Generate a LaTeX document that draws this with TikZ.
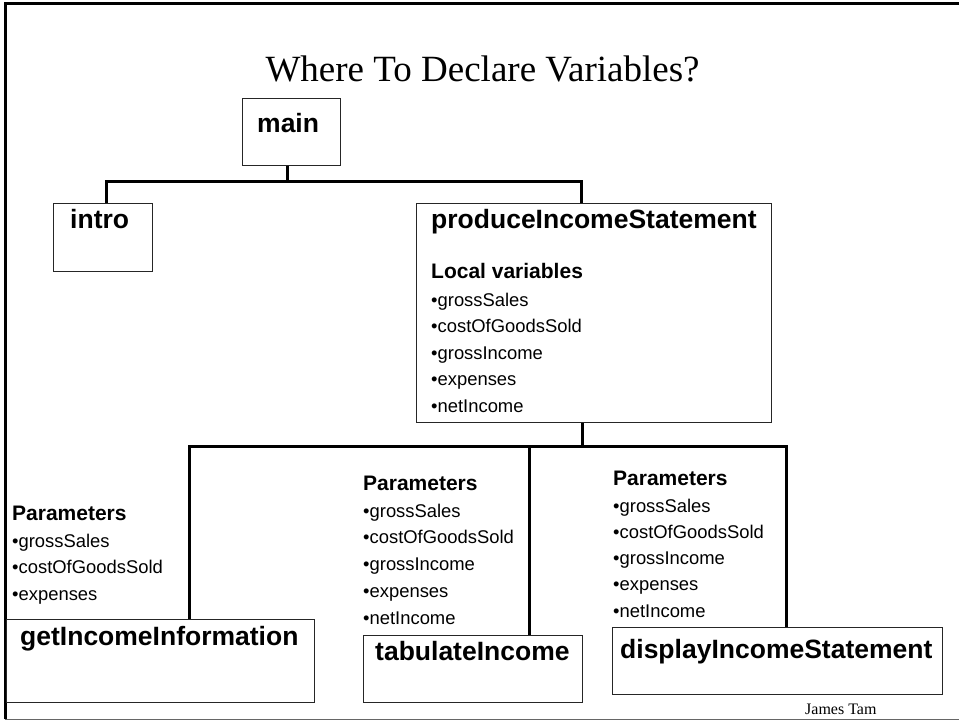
\documentclass[tikz,border=0pt]{standalone}
\usepackage{fontspec}
\setmainfont{Liberation Serif}
\setsansfont{Liberation Sans}
\usetikzlibrary{calc}

\tikzset{
  module/.style={draw=black!85, line width=1pt, rectangle, inner sep=0pt, anchor=north west},
  modname/.style={anchor=base west, inner sep=0pt, font=\sffamily\bfseries\fontsize{26.5}{30}\selectfont},
  listhead/.style={anchor=base west, inner sep=0pt, font=\sffamily\bfseries\fontsize{21}{24}\selectfont},
  listitem/.style={anchor=base west, inner sep=0pt, font=\sffamily\fontsize{18.4}{22}\selectfont},
  bus/.style={line width=3pt, black, line join=miter}
}

\begin{document}
\begin{tikzpicture}[x=1pt, y=-1pt, line cap=butt]
	\useasboundingbox (0,0) rectangle (959,720);

	% slide frame
	\draw[line width=3pt, black] (5,719) -- (5,3.5) -- (959,3.5);
	\draw[line width=1pt, black!60] (5,719) -- (959,719);

	\node[anchor=base, inner sep=0pt, font=\fontsize{37}{40}\selectfont] (title) at (482.5,81) {Where To Declare Variables?};
	\node[anchor=base west, inner sep=0pt, font=\fontsize{16}{18}\selectfont] (author) at (805,714) {James Tam};

	% modules
	\node[module, minimum width=98pt, minimum height=67pt] (main) at (242,98) {};
	\node[module, minimum width=99pt, minimum height=68pt] (intro) at (53,203) {};
	\node[module, minimum width=355pt, minimum height=219pt] (produce) at (416,203) {};
	\node[module, minimum width=308pt, minimum height=83pt] (getinfo) at (6,619) {};
	\node[module, minimum width=219pt, minimum height=67pt] (tabulate) at (363,635) {};
	\node[module, minimum width=330pt, minimum height=67pt] (display) at (612,627) {};

	\node[modname] (mainlbl) at (257,132) {main};
	\node[modname] (introlbl) at (70,228) {intro};
	\node[modname] (producelbl) at (431,228) {produceIncomeStatement};
	\node[modname] (getinfolbl) at (20,645) {getIncomeInformation};
	\node[modname] (tabulatelbl) at (375,660) {tabulateIncome};
	\node[modname] (displaylbl) at (620,658) {displayIncomeStatement};

	% variable lists
	\node[listhead] (localhd) at (431,278) {Local variables};
	\foreach \v [count=\i] in {grossSales,costOfGoodsSold,grossIncome,expenses,netIncome}
		\node[listitem] (loc\i) at (431,{306+26.5*(\i-1)}) {•\v};

	\node[listhead] (getparhd) at (12,520) {Parameters};
	\foreach \v [count=\i] in {grossSales,costOfGoodsSold,expenses}
		\node[listitem] (getpar\i) at (12,{547+26.5*(\i-1)}) {•\v};

	\node[listhead] (tabparhd) at (363,490) {Parameters};
	\foreach \v [count=\i] in {grossSales,costOfGoodsSold,grossIncome,expenses,netIncome}
		\node[listitem] (tabpar\i) at (363,{517+26.75*(\i-1)}) {•\v};

	\node[listhead] (dispparhd) at (613,485) {Parameters};
	\foreach \v [count=\i] in {grossSales,costOfGoodsSold,grossIncome,expenses,netIncome}
		\node[listitem] (disppar\i) at (613,{512+26.3*(\i-1)}) {•\v};

	% structure chart links
	\coordinate (top) at (287,181);
	\coordinate (topL) at (106,181);
	\coordinate (topR) at (581,181);
	\draw[bus] (top |- main.south) -- (top);
	\draw[bus] (topL |- intro.north) -- (topL) -- (topR) -- (topR |- produce.north);

	\coordinate (low) at (582,446);
	\coordinate (lowL) at (189,446);
	\coordinate (lowM) at (529,446);
	\coordinate (lowR) at (786,446);
	\draw[bus] (low |- produce.south) -- (low);
	\draw[bus] (lowL |- getinfo.north) -- (lowL) -- (lowR) -- (lowR |- display.north);
	\draw[bus] (lowM) -- (lowM |- tabulate.north);
\end{tikzpicture}
\end{document}
